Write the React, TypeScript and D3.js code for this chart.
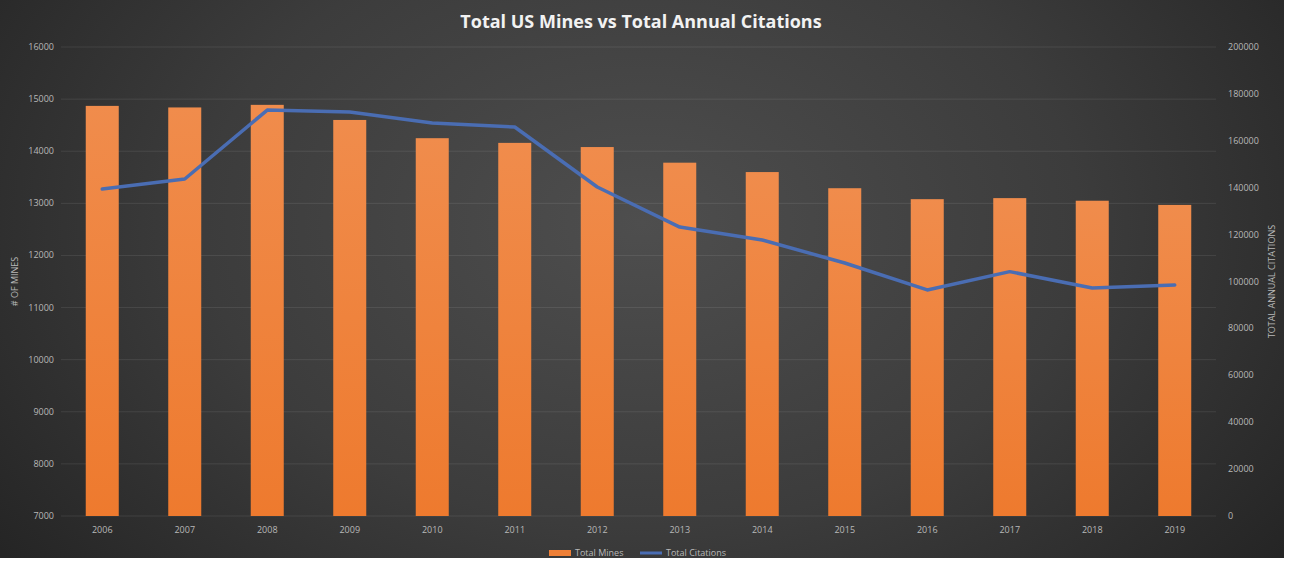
import React from "react";
import * as d3 from "d3";

// Yearly figures
const years = ["2006", "2007", "2008", "2009", "2010", "2011", "2012", "2013", "2014", "2015", "2016", "2017", "2018", "2019"];
const totalMines = [14870, 14840, 14890, 14600, 14250, 14160, 14080, 13780, 13600, 13290, 13080, 13100, 13050, 12970];
const totalCitations = [139400, 143700, 173100, 172300, 167600, 165900, 140300, 123200, 117700, 107900, 96400, 104200, 97200, 98500];

const minesTicks = [7000, 8000, 9000, 10000, 11000, 12000, 13000, 14000, 15000, 16000];
const citationTicks = [0, 20000, 40000, 60000, 80000, 100000, 120000, 140000, 160000, 180000, 200000];

const W = 1289;
const H = 562;
const BG_W = 1284;
const BG_H = 558;
const plot = { left: 61, right: 1216, top: 47, bottom: 516 };

const FONT = "'Open Sans', 'Noto Sans', sans-serif";
const TICK_COLOR = "#b8b8b8";

export default function App() {
  const x = d3.scaleBand<string>().domain(years).range([plot.left, plot.right]).paddingInner(0.6).paddingOuter(0.3);
  const yLeft = d3.scaleLinear().domain([7000, 16000]).range([plot.bottom, plot.top]);
  const yRight = d3.scaleLinear().domain([0, 200000]).range([plot.bottom, plot.top]);

  const line = d3
    .line<number>()
    .x((_, i) => (x(years[i]) as number) + x.bandwidth() / 2)
    .y((d) => yRight(d));

  const cy = (plot.top + plot.bottom) / 2;

  return (
    <svg
      width={W}
      height={H}
      style={{ position: "absolute", left: 0, top: 0, background: "#ffffff" }}
      fontFamily={FONT}
    >
      <defs>
        <radialGradient id="bg" cx="0.5" cy="0.4" r="0.62" gradientTransform="translate(0.5 0.4) scale(1 1.6) translate(-0.5 -0.4)">
          <stop offset="0" stopColor="#4e4e4e" />
          <stop offset="0.55" stopColor="#3c3c3c" />
          <stop offset="1" stopColor="#252525" />
        </radialGradient>
        <linearGradient id="barFill" x1="0" y1="0" x2="0" y2="1">
          <stop offset="0" stopColor="#f08c4c" />
          <stop offset="1" stopColor="#ee7a2e" />
        </linearGradient>
      </defs>

      <rect x={0} y={0} width={BG_W} height={BG_H} fill="url(#bg)" />

      <text x={641} y={28} textAnchor="middle" fill="#f2f2f2" fontSize={18} fontWeight="bold">
        Total US Mines vs Total Annual Citations
      </text>

      {/* gridlines */}
      {minesTicks.map((t) => (
        <line
          key={"g" + t}
          x1={plot.left}
          x2={plot.right}
          y1={yLeft(t)}
          y2={yLeft(t)}
          stroke="#ffffff"
          strokeOpacity={0.09}
          strokeWidth={1}
        />
      ))}

      {/* left axis labels */}
      {minesTicks.map((t) => (
        <text key={"l" + t} x={54} y={yLeft(t) + 3} textAnchor="end" fill={TICK_COLOR} fontSize={9}>
          {t}
        </text>
      ))}

      {/* right axis labels */}
      {citationTicks.map((t) => (
        <text key={"r" + t} x={1228} y={yRight(t) + 3} textAnchor="start" fill={TICK_COLOR} fontSize={9}>
          {t}
        </text>
      ))}

      <text
        transform={`translate(18,${cy}) rotate(-90)`}
        textAnchor="middle"
        fill={TICK_COLOR}
        fontSize={9}
      >
        # OF MINES
      </text>
      <text
        transform={`translate(1275,${cy}) rotate(-90)`}
        textAnchor="middle"
        fill={TICK_COLOR}
        fontSize={9}
      >
        TOTAL ANNUAL CITATIONS
      </text>

      {/* bars */}
      {years.map((yr, i) => (
        <rect
          key={"b" + yr}
          x={x(yr)}
          y={yLeft(totalMines[i])}
          width={x.bandwidth()}
          height={plot.bottom - yLeft(totalMines[i])}
          fill="url(#barFill)"
        />
      ))}

      {/* x labels */}
      {years.map((yr) => (
        <text
          key={"x" + yr}
          x={(x(yr) as number) + x.bandwidth() / 2}
          y={533}
          textAnchor="middle"
          fill={TICK_COLOR}
          fontSize={9}
        >
          {yr}
        </text>
      ))}

      {/* citations line */}
      <path
        d={line(totalCitations) as string}
        fill="none"
        stroke="#4a6db3"
        strokeWidth={3.5}
        strokeLinejoin="round"
        strokeLinecap="round"
      />

      {/* legend */}
      <rect x={549} y={550} width={22} height={6} fill="#ee7f36" />
      <text x={575} y={556} fill={TICK_COLOR} fontSize={9}>
        Total Mines
      </text>
      <line x1={640} x2={662} y1={553} y2={553} stroke="#4a6db3" strokeWidth={3} />
      <text x={666} y={556} fill={TICK_COLOR} fontSize={9}>
        Total Citations
      </text>
    </svg>
  );
}
